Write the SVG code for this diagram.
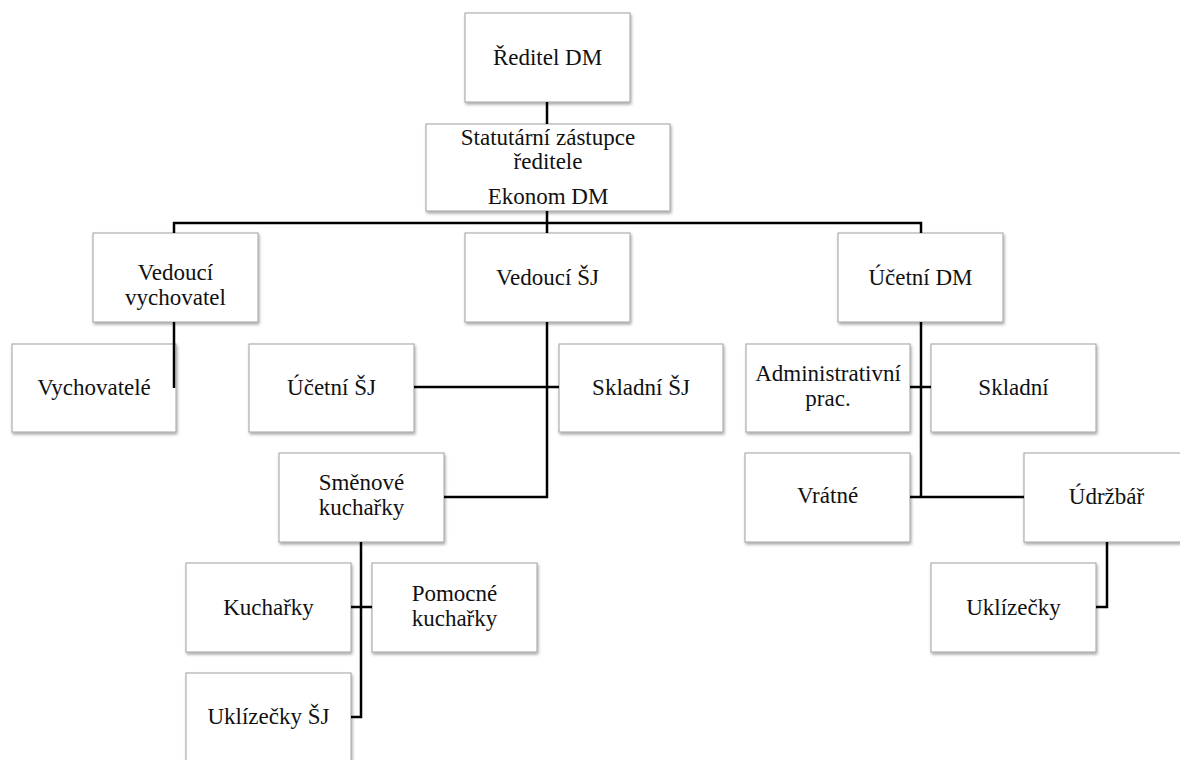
<svg xmlns="http://www.w3.org/2000/svg" width="1180" height="760" viewBox="0 0 1180 760">
<defs>
<filter id="sh" x="-10%" y="-10%" width="125%" height="130%">
<feDropShadow dx="1" dy="2" stdDeviation="1.5" flood-color="#000" flood-opacity="0.35"/>
</filter>
<style>
.box{fill:#fff;stroke:#a0a0a0;stroke-width:1;filter:url(#sh)}
.t{font-size:23px;fill:#111;text-anchor:middle}
.c{fill:none;stroke:#000;stroke-width:2.5}
</style>
</defs>
<rect width="1180" height="760" fill="#fff"/>
<g font-family="'Liberation Serif', 'DejaVu Serif', serif">
<g id="n-reditel"><rect class="box" x="465" y="13" width="165" height="89"/><text class="t" x="547.5" y="65">Ředitel DM</text></g>
<g id="n-statutarni"><rect class="box" x="426" y="124" width="244" height="87"/><text class="t" x="548" y="145">Statutární zástupce</text><text class="t" x="548" y="169">ředitele</text><text class="t" x="548" y="204">Ekonom DM</text></g>
<g id="n-vedvych"><rect class="box" x="93" y="233" width="165" height="89"/><text class="t" x="175.5" y="280">Vedoucí</text><text class="t" x="175.5" y="305">vychovatel</text></g>
<g id="n-vedsj"><rect class="box" x="465" y="233" width="165" height="89"/><text class="t" x="547.5" y="285">Vedoucí ŠJ</text></g>
<g id="n-ucetdm"><rect class="box" x="838" y="233" width="165" height="89"/><text class="t" x="920.5" y="285">Účetní DM</text></g>
<g id="n-vychovatele"><rect class="box" x="12" y="344" width="164" height="88"/><text class="t" x="94" y="395">Vychovatelé</text></g>
<g id="n-ucetsj"><rect class="box" x="249" y="344" width="165" height="88"/><text class="t" x="331.5" y="395">Účetní ŠJ</text></g>
<g id="n-skladsj"><rect class="box" x="559" y="344" width="164" height="88"/><text class="t" x="641" y="395">Skladní ŠJ</text></g>
<g id="n-admin"><rect class="box" x="746" y="344" width="164" height="88"/><text class="t" x="828" y="381">Administrativní</text><text class="t" x="828" y="406">prac.</text></g>
<g id="n-skladni"><rect class="box" x="931" y="344" width="165" height="88"/><text class="t" x="1013.5" y="395">Skladní</text></g>
<g id="n-smenove"><rect class="box" x="279" y="453" width="165" height="89"/><text class="t" x="361.5" y="490">Směnové</text><text class="t" x="361.5" y="515">kuchařky</text></g>
<g id="n-vratne"><rect class="box" x="745" y="453" width="165" height="89"/><text class="t" x="827.5" y="503">Vrátné</text></g>
<g id="n-udrzbar"><rect class="box" x="1024" y="453" width="165" height="89"/><text class="t" x="1106.5" y="504">Údržbář</text></g>
<g id="n-kucharky"><rect class="box" x="186" y="563" width="165" height="89"/><text class="t" x="268.5" y="615">Kuchařky</text></g>
<g id="n-pomocne"><rect class="box" x="372" y="563" width="165" height="89"/><text class="t" x="454.5" y="601">Pomocné</text><text class="t" x="454.5" y="626">kuchařky</text></g>
<g id="n-uklizecky"><rect class="box" x="931" y="563" width="165" height="89"/><text class="t" x="1013.5" y="615">Uklízečky</text></g>
<g id="n-uklizeckysj"><rect class="box" x="186" y="673" width="165" height="89"/><text class="t" x="268.5" y="724">Uklízečky ŠJ</text></g>
</g>
<g id="connectors">
<path class="c" d="M547,102 V124"/>
<path class="c" d="M547,211 V233"/>
<path class="c" d="M174,233 V223 H921 V233"/>
<path class="c" d="M174,322 V388"/>
<path class="c" d="M547,322 V497 H444"/>
<path class="c" d="M414,387 H559"/>
<path class="c" d="M361,542 V717 H351"/>
<path class="c" d="M351,607 H372"/>
<path class="c" d="M921,322 V497"/>
<path class="c" d="M910,387 H931"/>
<path class="c" d="M910,497 H1024"/>
<path class="c" d="M1107,542 V607 H1096"/>
</g>
</svg>
